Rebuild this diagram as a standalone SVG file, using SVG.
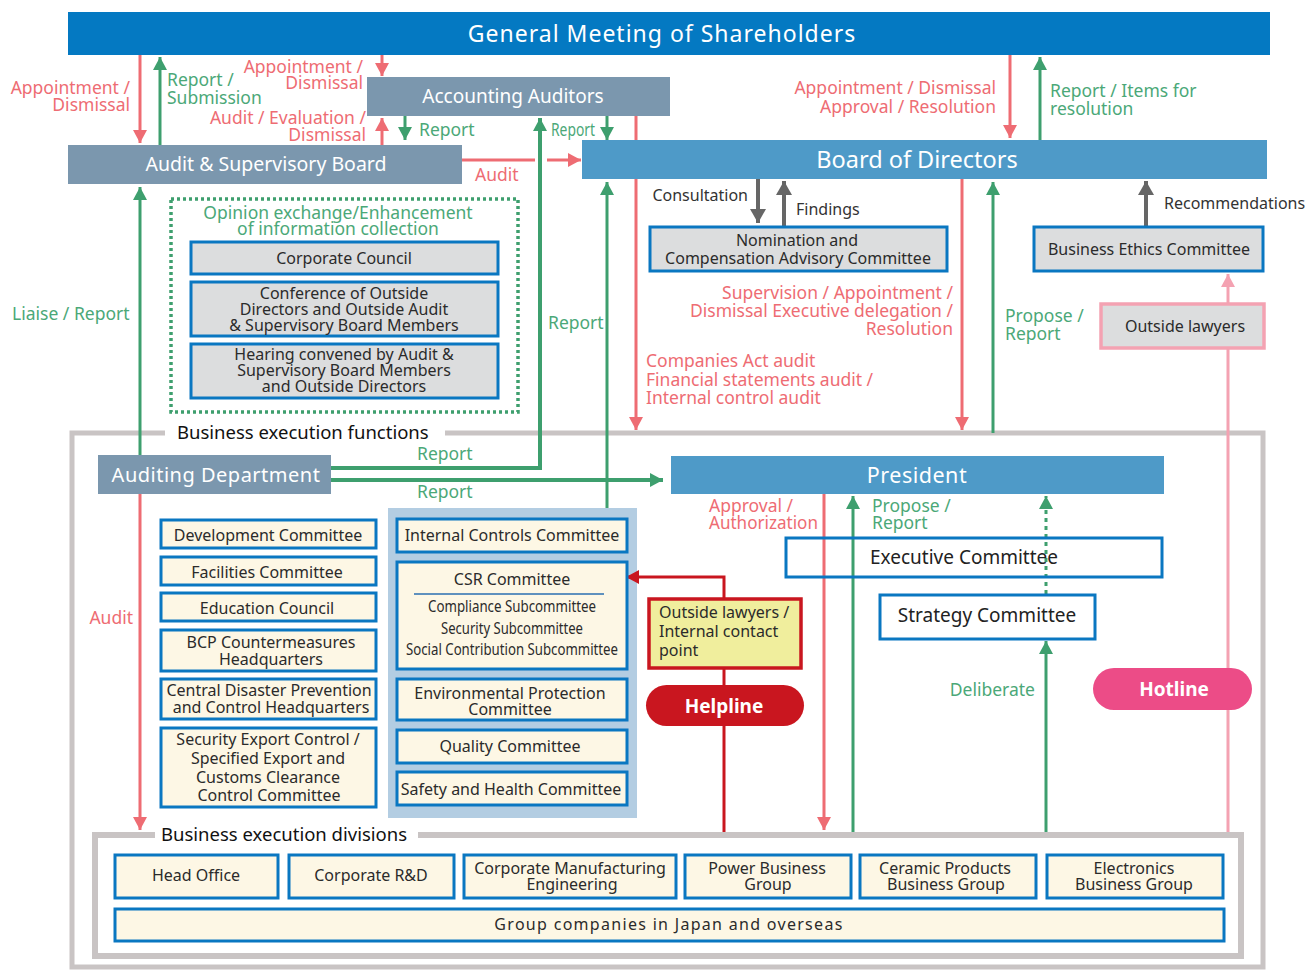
<svg xmlns="http://www.w3.org/2000/svg" width="1313" height="970" viewBox="0 0 1313 970">
<defs>
<style>
text{font-family:"Noto Sans","Open Sans","DejaVu Sans",sans-serif}
.r{stroke:#EE6C73;stroke-width:3;fill:none}
.g{stroke:#3E9F6E;stroke-width:3;fill:none}
.g4{stroke:#3E9F6E;stroke-width:4;fill:none}
.k{stroke:#666;stroke-width:4;fill:none}
.p{stroke:#F4A2B2;stroke-width:3;fill:none}
.d{stroke:#C9161F;stroke-width:3;fill:none}
.tr{fill:#EE6C73;font-size:17.5px}
.tg{fill:#4BA878;font-size:17.5px}
.tk{fill:#333;font-size:16px}
.w{fill:#fff}
.bgray{fill:#DCDDDE;stroke:#0A77C1;stroke-width:3}
.bcream{fill:#FDF7E5;stroke:#0A77C1;stroke-width:3}
.bt{fill:#2b2b2b;font-size:16px}
.mid{text-anchor:middle}
.end{text-anchor:end}
.frame{fill:none;stroke:#C9C4C4;stroke-width:5}
</style>
<marker id="mR" viewBox="0 0 13 14" refX="13" refY="7" markerWidth="13" markerHeight="14" markerUnits="userSpaceOnUse" orient="auto"><path d="M0,0L13,7L0,14z" fill="#EE6C73"/></marker>
<marker id="mG" viewBox="0 0 13 14" refX="13" refY="7" markerWidth="13" markerHeight="14" markerUnits="userSpaceOnUse" orient="auto"><path d="M0,0L13,7L0,14z" fill="#3E9F6E"/></marker>
<marker id="mK" viewBox="0 0 14 16" refX="14" refY="8" markerWidth="14" markerHeight="16" markerUnits="userSpaceOnUse" orient="auto"><path d="M0,0L14,8L0,16z" fill="#666"/></marker>
<marker id="mP" viewBox="0 0 13 14" refX="13" refY="7" markerWidth="13" markerHeight="14" markerUnits="userSpaceOnUse" orient="auto"><path d="M0,0L13,7L0,14z" fill="#F4A2B2"/></marker>
<marker id="mD" viewBox="0 0 13 14" refX="13" refY="7" markerWidth="13" markerHeight="14" markerUnits="userSpaceOnUse" orient="auto"><path d="M0,0L13,7L0,14z" fill="#C9161F"/></marker>
</defs>
<rect width="1313" height="970" fill="#fff"/>

<g id="frame-functions">
<rect class="frame" x="72" y="433" width="1191" height="534"/>
<rect x="165" y="424" width="280" height="18" fill="#fff"/>
<text x="177" y="439" fill="#111" font-size="18.5">Business execution functions</text>
</g>

<g id="frame-divisions">
<rect x="95" y="835" width="1146" height="121" fill="#fff" stroke="#C9C4C4" stroke-width="6"/>
<rect x="155" y="826" width="263" height="18" fill="#fff"/>
<text x="161" y="841" fill="#111" font-size="18.5">Business execution divisions</text>
</g>

<g id="opinion-group">
<rect x="171" y="199" width="347" height="213" fill="none" stroke="#3E9F6E" stroke-width="3.5" stroke-dasharray="3 3"/>
<text class="tg mid" x="338" y="219" font-size="19">Opinion exchange/Enhancement</text>
<text class="tg mid" x="338" y="235" font-size="19">of information collection</text>
</g>

<g id="csr-panel"><rect x="388" y="508" width="249" height="310" fill="#B3CDE2"/></g>

<g id="connectors">
<line class="r" x1="140" y1="55" x2="140" y2="143" marker-end="url(#mR)"/>
<line class="g" x1="160" y1="145" x2="160" y2="57" marker-end="url(#mG)"/>
<line class="r" x1="382" y1="55" x2="382" y2="76" marker-end="url(#mR)"/>
<line class="r" x1="382" y1="145" x2="382" y2="118" marker-end="url(#mR)"/>
<line class="g" x1="405" y1="116" x2="405" y2="140" marker-end="url(#mG)"/>
<line class="r" x1="462" y1="160" x2="535" y2="160"/>
<line class="r" x1="547" y1="160" x2="581" y2="160" marker-end="url(#mR)"/>
<polyline class="g4" points="331,468 540,468 540,118" marker-end="url(#mG)"/>
<line class="g" x1="607" y1="116" x2="607" y2="140" marker-end="url(#mG)"/>
<line class="r" x1="636" y1="116" x2="636" y2="430" marker-end="url(#mR)"/>
<line class="g" x1="607" y1="508" x2="607" y2="182" marker-end="url(#mG)"/>
<line class="k" x1="758" y1="179" x2="758" y2="223" marker-end="url(#mK)"/>
<line class="k" x1="784" y1="227" x2="784" y2="181" marker-end="url(#mK)"/>
<line class="r" x1="1010" y1="55" x2="1010" y2="138" marker-end="url(#mR)"/>
<line class="g" x1="1040" y1="140" x2="1040" y2="57" marker-end="url(#mG)"/>
<line class="r" x1="962" y1="179" x2="962" y2="430" marker-end="url(#mR)"/>
<line class="g" x1="993" y1="433" x2="993" y2="182" marker-end="url(#mG)"/>
<line class="k" x1="1146" y1="227" x2="1146" y2="181" marker-end="url(#mK)"/>
<line class="p" x1="1228" y1="303" x2="1228" y2="274" marker-end="url(#mP)"/>
<line class="p" x1="1228" y1="348" x2="1228" y2="832"/>
<line class="g" x1="140" y1="455" x2="140" y2="187" marker-end="url(#mG)"/>
<line class="g4" x1="331" y1="480" x2="663" y2="480" marker-end="url(#mG)"/>
<line class="r" x1="140" y1="494" x2="140" y2="830" marker-end="url(#mR)"/>
<line class="r" x1="824" y1="494" x2="824" y2="830" marker-end="url(#mR)"/>
<line class="g" x1="853" y1="832" x2="853" y2="496" marker-end="url(#mG)"/>
<line class="g" x1="1046" y1="594" x2="1046" y2="496" stroke-dasharray="4 4" marker-end="url(#mG)"/>
<line class="g" x1="1046" y1="832" x2="1046" y2="641" marker-end="url(#mG)"/>
<polyline class="d" points="724,599 724,577 626,577" marker-end="url(#mD)"/>
<line class="d" x1="724" y1="668" x2="724" y2="832"/>
</g>

<g id="labels">
<text class="tr end" x="130" y="94">Appointment /</text>
<text class="tr end" x="130" y="111">Dismissal</text>
<text class="tg" x="167" y="86">Report /</text>
<text class="tg" x="167" y="104">Submission</text>
<text class="tr end" x="363" y="73">Appointment /</text>
<text class="tr end" x="363" y="89">Dismissal</text>
<text class="tr end" x="366" y="124">Audit / Evaluation /</text>
<text class="tr end" x="366" y="141">Dismissal</text>
<text class="tg" x="419" y="136">Report</text>
<text class="tg" x="551" y="136" font-size="15" textLength="44" lengthAdjust="spacingAndGlyphs">Report</text>
<text class="tr" x="475" y="181">Audit</text>
<text class="tr end" x="996" y="94">Appointment / Dismissal</text>
<text class="tr end" x="996" y="113">Approval / Resolution</text>
<text class="tg" x="1050" y="97">Report / Items for</text>
<text class="tg" x="1050" y="115">resolution</text>
<text class="tk end" x="748" y="201">Consultation</text>
<text class="tk" x="796" y="215">Findings</text>
<text class="tk" x="1164" y="209">Recommendations</text>
<text class="tr end" x="953" y="299">Supervision / Appointment /</text>
<text class="tr end" x="953" y="317">Dismissal Executive delegation /</text>
<text class="tr end" x="953" y="335">Resolution</text>
<text class="tr" x="646" y="367">Companies Act audit</text>
<text class="tr" x="646" y="386">Financial statements audit /</text>
<text class="tr" x="646" y="404">Internal control audit</text>
<text class="tg" x="1005" y="322">Propose /</text>
<text class="tg" x="1005" y="340">Report</text>
<text class="tg" x="12" y="320">Liaise / Report</text>
<text class="tg" x="548" y="329">Report</text>
<text class="tg" x="417" y="460">Report</text>
<text class="tg" x="417" y="498">Report</text>
<text class="tr end" x="133" y="624">Audit</text>
<text class="tr" x="709" y="512">Approval /</text>
<text class="tr" x="709" y="529" textLength="109" lengthAdjust="spacingAndGlyphs">Authorization</text>
<text class="tg" x="872" y="512">Propose /</text>
<text class="tg" x="872" y="529">Report</text>
<text class="tg end" x="1035" y="696">Deliberate</text>
</g>

<g id="gms"><rect x="68" y="12" width="1202" height="43" fill="#0479C2"/><text class="w mid" x="662" y="42" font-size="23" letter-spacing="1">General Meeting of Shareholders</text></g>
<g id="accounting-auditors"><rect x="367" y="77" width="303" height="39" fill="#7B97AE"/><text class="w mid" x="513" y="103" font-size="19">Accounting Auditors</text></g>
<g id="audit-supervisory-board"><rect x="68" y="145" width="394" height="39" fill="#7B97AE"/><text class="w mid" x="266" y="171" font-size="19.5">Audit &amp; Supervisory Board</text></g>
<g id="board-of-directors"><rect x="582" y="140" width="685" height="39" fill="#4E9AC8"/><text class="w mid" x="917" y="168" font-size="23.5">Board of Directors</text></g>

<g id="nomination"><rect class="bgray" x="650" y="227" width="297" height="44"/><text class="bt mid" x="797" y="246" font-size="17.5">Nomination and</text><text class="bt mid" x="798" y="264" font-size="17.5">Compensation Advisory Committee</text></g>
<g id="business-ethics"><rect class="bgray" x="1034" y="227" width="229" height="44"/><text class="bt mid" x="1149" y="255" font-size="17.5">Business Ethics Committee</text></g>
<g id="outside-lawyers"><rect x="1101" y="304" width="163" height="44" fill="#DCDDDE" stroke="#F4A2B2" stroke-width="3.5"/><text class="bt mid" x="1185" y="332" font-size="18.5">Outside lawyers</text></g>

<g id="corporate-council"><rect class="bgray" x="191" y="242" width="307" height="32"/><text class="bt mid" x="344" y="264" font-size="18.5">Corporate Council</text></g>
<g id="conference"><rect class="bgray" x="191" y="282" width="307" height="54"/><text class="bt mid" x="344" y="299" font-size="15">Conference of Outside</text><text class="bt mid" x="344" y="315" font-size="15">Directors and Outside Audit</text><text class="bt mid" x="344" y="331" font-size="15">&amp; Supervisory Board Members</text></g>
<g id="hearing"><rect class="bgray" x="191" y="344" width="307" height="54"/><text class="bt mid" x="344" y="360" font-size="15">Hearing convened by Audit &amp;</text><text class="bt mid" x="344" y="376" font-size="15">Supervisory Board Members</text><text class="bt mid" x="344" y="392" font-size="15">and Outside Directors</text></g>

<g id="auditing-department"><rect x="98" y="455" width="233" height="39" fill="#7B97AE"/><text class="w mid" x="216" y="482" font-size="20" letter-spacing="0.5">Auditing Department</text></g>
<g id="president"><rect x="671" y="456" width="493" height="38" fill="#4E9AC8"/><text class="w mid" x="917" y="483" font-size="21.5" letter-spacing="0.5">President</text></g>

<g id="development"><rect class="bcream" x="161" y="520" width="215" height="28"/><text class="bt mid" x="268" y="541" font-size="19">Development Committee</text></g>
<g id="facilities"><rect class="bcream" x="161" y="557" width="215" height="28"/><text class="bt mid" x="267" y="578" font-size="19.5">Facilities Committee</text></g>
<g id="education"><rect class="bcream" x="161" y="593" width="215" height="28"/><text class="bt mid" x="267" y="614" font-size="19.5">Education Council</text></g>
<g id="bcp"><rect class="bcream" x="161" y="630" width="215" height="41"/><text class="bt mid" x="271" y="648" font-size="18.5">BCP Countermeasures</text><text class="bt mid" x="271" y="665" font-size="18.5">Headquarters</text></g>
<g id="disaster"><rect class="bcream" x="161" y="679" width="215" height="40"/><text class="bt mid" x="269" y="696" font-size="16">Central Disaster Prevention</text><text class="bt mid" x="271" y="713" font-size="16">and Control Headquarters</text></g>
<g id="security-export"><rect class="bcream" x="161" y="728" width="215" height="79"/><text class="bt mid" x="268" y="745" font-size="18.5">Security Export Control /</text><text class="bt mid" x="268" y="764" font-size="18.5">Specified Export and</text><text class="bt mid" x="268" y="783" font-size="18.5">Customs Clearance</text><text class="bt mid" x="269" y="801" font-size="18.5">Control Committee</text></g>

<g id="internal-controls"><rect class="bcream" x="397" y="519" width="230" height="33"/><text class="bt mid" x="512" y="541" font-size="15.5">Internal Controls Committee</text></g>
<g id="csr"><rect class="bcream" x="397" y="562" width="230" height="107"/><text class="bt mid" x="512" y="585" font-size="16.5">CSR Committee</text><line x1="414" y1="594" x2="604" y2="594" stroke="#2A6FB0" stroke-width="1.5"/><text class="bt mid" x="512" y="612" font-size="13" textLength="168" lengthAdjust="spacingAndGlyphs">Compliance Subcommittee</text><text class="bt mid" x="512" y="634" font-size="13" textLength="142" lengthAdjust="spacingAndGlyphs">Security Subcommittee</text><text class="bt mid" x="512" y="655" font-size="13" textLength="212" lengthAdjust="spacingAndGlyphs">Social Contribution Subcommittee</text></g>
<g id="environmental"><rect class="bcream" x="397" y="679" width="230" height="41"/><text class="bt mid" x="510" y="699" font-size="16">Environmental Protection</text><text class="bt mid" x="510" y="715" font-size="16">Committee</text></g>
<g id="quality"><rect class="bcream" x="397" y="730" width="230" height="33"/><text class="bt mid" x="510" y="752" font-size="16">Quality Committee</text></g>
<g id="safety"><rect class="bcream" x="397" y="772" width="230" height="33"/><text class="bt mid" x="511" y="795" font-size="15.5">Safety and Health Committee</text></g>

<g id="internal-contact"><rect x="649" y="599" width="152" height="69" fill="#F0EE9D" stroke="#C9161F" stroke-width="3.5"/><text class="bt" x="659" y="618" font-size="16.2">Outside lawyers /</text><text class="bt" x="659" y="637" font-size="16.2">Internal contact</text><text class="bt" x="659" y="656" font-size="16.2">point</text></g>
<g id="helpline"><rect x="646" y="685" width="158" height="41" rx="20.5" fill="#C9161F"/><text class="w mid" x="724" y="713" font-size="19" font-weight="bold">Helpline</text></g>
<g id="executive"><rect x="786" y="538" width="376" height="39" fill="none" stroke="#0A77C1" stroke-width="3"/><text x="870" y="564" fill="#222" font-size="19">Executive Committee</text></g>
<g id="strategy"><rect x="880" y="595" width="215" height="44" fill="none" stroke="#0A77C1" stroke-width="3"/><text class="mid" x="987" y="622" fill="#222" font-size="19">Strategy Committee</text></g>
<g id="hotline"><rect x="1093" y="668" width="159" height="42" rx="21" fill="#EC4C87"/><text class="w mid" x="1174" y="696" font-size="19" font-weight="bold">Hotline</text></g>

<g id="head-office"><rect class="bcream" x="115" y="855" width="163" height="43" stroke-width="2.5"/><text class="bt mid" x="196" y="881" font-size="15">Head Office</text></g>
<g id="corporate-rd"><rect class="bcream" x="289" y="855" width="165" height="43" stroke-width="2.5"/><text class="bt mid" x="371" y="881" font-size="15">Corporate R&amp;D</text></g>
<g id="manufacturing"><rect class="bcream" x="464" y="855" width="212" height="43" stroke-width="2.5"/><text class="bt mid" x="570" y="874" font-size="15">Corporate Manufacturing</text><text class="bt mid" x="572" y="890" font-size="15">Engineering</text></g>
<g id="power"><rect class="bcream" x="685" y="855" width="166" height="43" stroke-width="2.5"/><text class="bt mid" x="767" y="874" font-size="15">Power Business</text><text class="bt mid" x="768" y="890" font-size="15">Group</text></g>
<g id="ceramic"><rect class="bcream" x="860" y="855" width="176" height="43" stroke-width="2.5"/><text class="bt mid" x="945" y="874" font-size="15">Ceramic Products</text><text class="bt mid" x="946" y="890" font-size="15">Business Group</text></g>
<g id="electronics"><rect class="bcream" x="1047" y="855" width="176" height="43" stroke-width="2.5"/><text class="bt mid" x="1134" y="874" font-size="15">Electronics</text><text class="bt mid" x="1134" y="890" font-size="15">Business Group</text></g>
<g id="group-companies"><rect class="bcream" x="115" y="909" width="1109" height="32" stroke-width="2.5"/><text class="bt mid" x="669" y="930" font-size="15" letter-spacing="1.3">Group companies in Japan and overseas</text></g>
</svg>
